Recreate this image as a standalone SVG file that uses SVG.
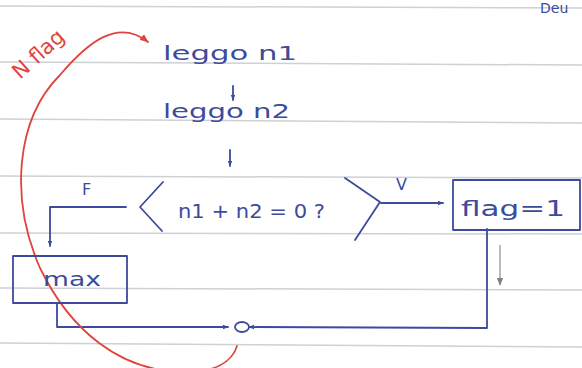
<svg xmlns="http://www.w3.org/2000/svg" width="582" height="368" viewBox="0 0 582 368">
<style>
.ink{fill:#3c4b9c;font-family:"DejaVu Sans","Liberation Sans",sans-serif;}
.ln{fill:none;stroke:#3c4b9c;stroke-width:1.8;stroke-linecap:round;stroke-linejoin:round;}
.rule{stroke:#cdd1d4;stroke-width:1.5;}
.red{fill:none;stroke:#e0443c;stroke-width:1.8;stroke-linecap:round;}
</style>
<defs>
<marker id="ah" viewBox="0 0 10 10" refX="9" refY="5" markerWidth="6" markerHeight="6" orient="auto" markerUnits="userSpaceOnUse">
<path d="M0,1 L10,5 L0,9 z" fill="#3c4b9c"/>
</marker>
<marker id="ahr" viewBox="0 0 10 10" refX="9" refY="5" markerWidth="9" markerHeight="9" orient="auto" markerUnits="userSpaceOnUse">
<path d="M0,1 L10,5 L0,9 z" fill="#e0443c"/>
</marker>
<marker id="ahg" viewBox="0 0 10 10" refX="9" refY="5" markerWidth="8" markerHeight="8" orient="auto" markerUnits="userSpaceOnUse">
<path d="M0,1 L10,5 L0,9 z" fill="#7d8088"/>
</marker>
</defs>
<rect width="582" height="368" fill="#ffffff"/>
<g id="paper">
<line class="rule" x1="0" y1="6" x2="582" y2="8"/>
<line class="rule" x1="0" y1="62" x2="582" y2="65"/>
<line class="rule" x1="0" y1="119" x2="582" y2="123"/>
<line class="rule" x1="0" y1="176" x2="582" y2="178"/>
<line class="rule" x1="0" y1="233" x2="582" y2="234"/>
<line class="rule" x1="0" y1="288" x2="582" y2="290"/>
<line class="rule" x1="0" y1="343" x2="582" y2="347"/>
<text class="ink" x="540" y="13" font-size="14">Deu</text>
</g>
<g id="connectors">
<line class="ln" x1="233" y1="86" x2="233" y2="100" marker-end="url(#ah)"/>
<line class="ln" x1="230" y1="150" x2="230" y2="166" marker-end="url(#ah)"/>
<polyline class="ln" points="126,207 50,207 50,246" marker-end="url(#ah)"/>
<line class="ln" x1="381" y1="203" x2="443" y2="203" marker-end="url(#ah)"/>
<polyline class="ln" points="57,303 57,327 228,327" marker-end="url(#ah)"/>
<polyline class="ln" points="487,229 487,328 249,327" marker-end="url(#ah)"/>
<line x1="500" y1="245" x2="500" y2="285" stroke="#8a8d94" stroke-width="1.2" marker-end="url(#ahg)"/>
<path class="red" d="M237,346 C232,362 215,372 185,372 C120,372 70,330 40,268 C10,200 15,120 60,75 C88,42 118,18 148,42" marker-end="url(#ahr)"/>
<text x="20" y="80" font-size="21" fill="#e0443c" font-family="DejaVu Sans,sans-serif" transform="rotate(-42 20 80)">N flag</text>
<text class="ink" x="82" y="195" font-size="16">F</text>
<text class="ink" x="396" y="190" font-size="16">V</text>
</g>
<g id="read1">
<text class="ink" x="163" y="60" font-size="20" textLength="134" lengthAdjust="spacingAndGlyphs">leggo n1</text>
</g>
<g id="read2">
<text class="ink" x="163" y="118" font-size="20" textLength="127" lengthAdjust="spacingAndGlyphs">leggo n2</text>
</g>
<g id="decision">
<polyline class="ln" points="163,182 140,207 162,231"/>
<polyline class="ln" points="345,178 380,202 355,240"/>
<text class="ink" x="178" y="218" font-size="20" textLength="147" lengthAdjust="spacingAndGlyphs">n1 + n2 = 0 ?</text>
</g>
<g id="max">
<rect class="ln" x="13" y="256" width="114" height="47"/>
<text class="ink" x="43" y="286" font-size="20" textLength="58" lengthAdjust="spacingAndGlyphs">max</text>
</g>
<g id="flag">
<rect class="ln" x="453" y="180" width="127" height="50"/>
<text class="ink" x="461" y="216" font-size="21" textLength="104" lengthAdjust="spacingAndGlyphs">flag=1</text>
</g>
<g id="join">
<ellipse class="ln" cx="242" cy="327" rx="7" ry="5"/>
</g>
</svg>
